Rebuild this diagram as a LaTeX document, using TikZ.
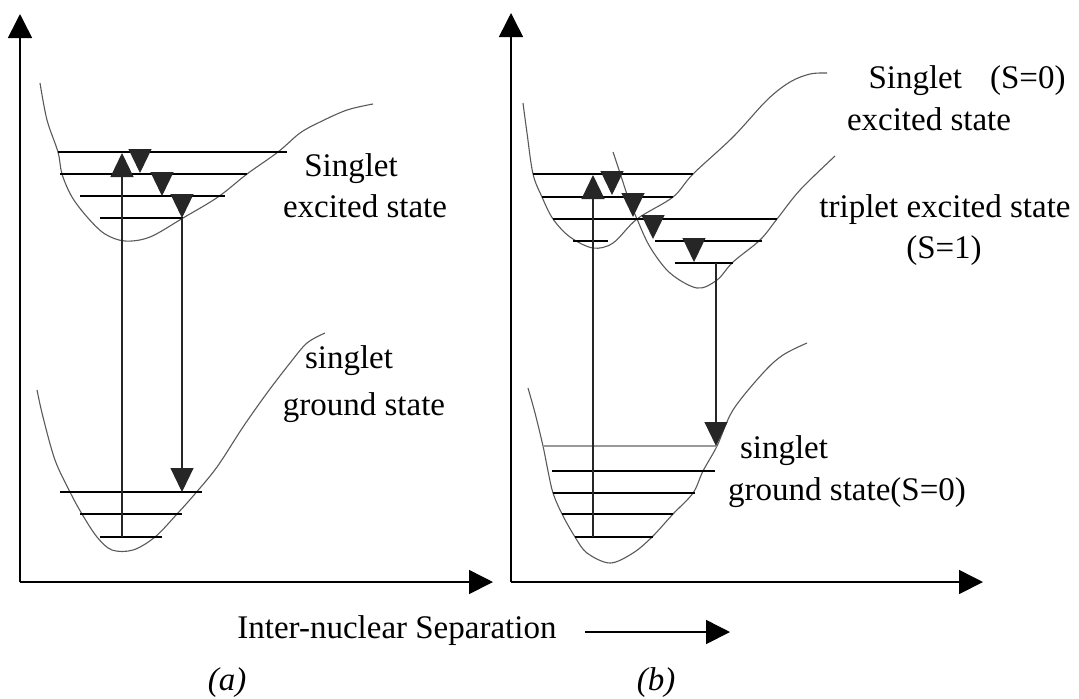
\documentclass[tikz,border=0pt]{standalone}
\usepackage{fontspec}
\setmainfont{Liberation Serif}
\usetikzlibrary{arrows.meta}
\tikzset{
  pecurve/.style = {draw=black!65, line width=0.55pt},
  pelevel/.style = {draw=black, line width=0.75pt},
  pefaint/.style = {draw=black!40, line width=0.75pt},
  peaxis/.style  = {-{Triangle[length=12pt,width=12pt]}, draw=black, line width=0.8pt},
  petrans/.style = {-{Triangle[length=12pt,width=11.5pt]}, draw=black!85, line width=0.55pt},
  pelbl/.style   = {font=\fontsize{16.5}{20}\selectfont, inner sep=0pt, anchor=base},
  petag/.style   = {pelbl, font=\fontsize{16.5}{20}\selectfont\itshape},
}
\begin{document}
\begin{tikzpicture}[x=0.5pt, y=-0.5pt]
  \useasboundingbox (0,0) rectangle (1079,698);

  % axes
  \coordinate (ao) at (20,582);  \coordinate (ay) at (20,14);  \coordinate (ax) at (493,582);
  \coordinate (bo) at (511,582); \coordinate (by) at (511,13); \coordinate (bx) at (983,582);
  \draw[peaxis] (ao) -- (ay);
  \draw[peaxis] (ao) -- (ax);
  \draw[peaxis] (bo) -- (by);
  \draw[peaxis] (bo) -- (bx);

  % (a) potential curves
  \draw[pecurve] plot[smooth, tension=0.55] coordinates {(40,83) (47,120) (58,152) (62,174) (72,197)
      (88,218) (105,234) (125,241) (150,237) (183,218) (218,197) (247,174) (278,152) (300,133)
      (320,122) (347,110) (373,104)};
  \draw[pecurve] plot[smooth, tension=0.55] coordinates {(37,390) (43,417) (55,460) (70,492) (82,514)
      (97,537) (112,550) (133,550) (155,537) (177,514) (194,495) (217,467) (243,427) (267,393)
      (290,363) (307,343) (325,333)};

  % (a) vibrational levels
  \draw[pelevel] (58,152) -- (287,152) (60,174) -- (247,174) (80,196) -- (225,196) (100,218) -- (183,218);
  \draw[pelevel] (60,492) -- (202,492) (80,514) -- (182,514) (100,537) -- (162,537);

  % (a) transitions
  \coordinate (aab0) at (122,537); \coordinate (aab1) at (122,153);
  \coordinate (ahp0) at (140,151); \coordinate (ahp1) at (140,173);
  \coordinate (ahq0) at (162,174); \coordinate (ahq1) at (162,196);
  \coordinate (ahr0) at (182,196); \coordinate (ahr1) at (182,218);
  \coordinate (aem1) at (182,492);
  \draw[petrans] (aab0) -- (aab1);
  \draw[petrans] (ahp0) -- (ahp1);
  \draw[petrans] (ahq0) -- (ahq1);
  \draw[petrans] (ahr0) -- (ahr1);
  \draw[petrans] (ahr1) -- (aem1);

  % (b) potential curves
  \draw[pecurve] plot[smooth, tension=0.55] coordinates {(523,103) (527,133) (533,174) (542,197)
      (553,219) (570,237) (593,248) (613,243) (637,219) (673,197) (693,174) (733,137) (767,100)
      (790,82) (810,74) (827,73)};
  \draw[pecurve] plot[smooth, tension=0.55] coordinates {(613,152) (620,173) (628,197) (637,219)
      (650,247) (670,273) (697,288) (717,280) (733,262) (760,240) (777,219) (800,190) (835,156)};
  \draw[pecurve] plot[smooth, tension=0.55] coordinates {(528,388) (535,413) (543,446) (548,471)
      (553,493) (562,514) (575,537) (587,553) (610,563) (633,553) (652,537) (673,514) (693,493)
      (703,471) (717,446) (733,410) (763,373) (783,355) (807,343)};

  % (b) vibrational levels
  \draw[pelevel] (533,174) -- (693,174) (542,197) -- (673,197) (553,219) -- (777,219) (573,241) -- (608,241);
  \draw[pelevel] (655,241) -- (762,241) (675,263) -- (733,263);
  \draw[pefaint] (543,446) -- (717,446);
  \draw[pelevel] (552,471) -- (715,471) (553,493) -- (695,493) (562,514) -- (673,514) (575,537) -- (653,537);

  % (b) transitions
  \coordinate (bab0) at (593,537); \coordinate (bab1) at (593,175);
  \coordinate (bhp0) at (612,173); \coordinate (bhp1) at (612,195);
  \coordinate (bhq0) at (633,195); \coordinate (bhq1) at (633,217);
  \coordinate (bhr0) at (653,217); \coordinate (bhr1) at (653,239);
  \coordinate (bhs0) at (694,240); \coordinate (bhs1) at (694,262);
  \coordinate (bph0) at (716,263); \coordinate (bph1) at (716,446);
  \draw[petrans] (bab0) -- (bab1);
  \draw[petrans] (bhp0) -- (bhp1);
  \draw[petrans] (bhq0) -- (bhq1);
  \draw[petrans] (bhr0) -- (bhr1);
  \draw[petrans] (bhs0) -- (bhs1);
  \draw[petrans] (bph0) -- (bph1);

  % labels
  \node[pelbl] (asx1) at (351,176) {Singlet};
  \node[pelbl] (asx2) at (365,217) {excited state};
  \node[pelbl] (asg1) at (349,368) {singlet};
  \node[pelbl] (asg2) at (364,415) {ground state};
  \node[pelbl] (bsx1) at (967,88)  {Singlet\hspace{14pt}(S=0)};
  \node[pelbl] (bsx2) at (929,130) {excited state};
  \node[pelbl] (btx1) at (945,217) {triplet excited state};
  \node[pelbl] (btx2) at (944,258) {(S=1)};
  \node[pelbl] (bsg1) at (784,458) {singlet};
  \node[pelbl] (bsg2) at (847,500) {ground state(S=0)};

  \node[pelbl, anchor=base west] (sep) at (237,638) {Inter-nuclear Separation};
  \coordinate (sep0) at (585,632); \coordinate (sep1) at (730,632);
  \draw[peaxis] (sep0) -- (sep1);

  \node[petag] (taga) at (227,690) {(a)};
  \node[petag] (tagb) at (656,690) {(b)};
\end{tikzpicture}
\end{document}
